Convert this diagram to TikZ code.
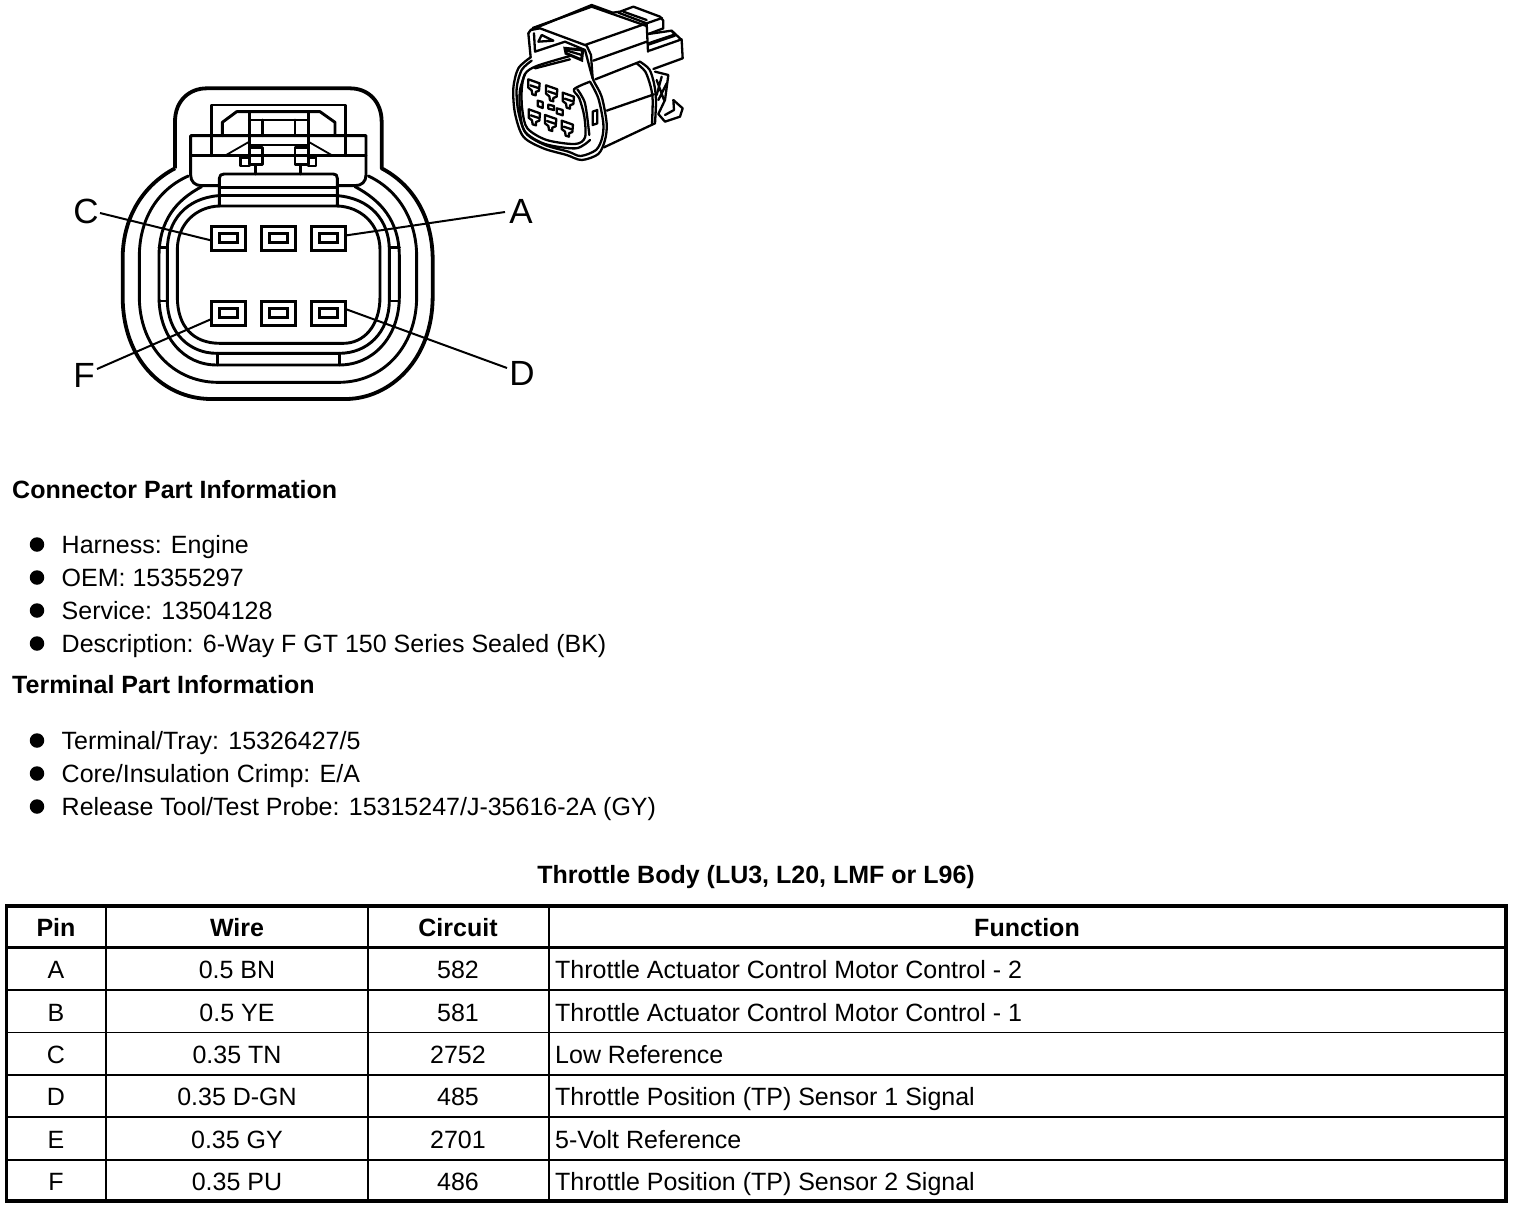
\documentclass[tikz,border=0pt]{standalone}
\usepackage{fontspec}
\setmainfont{Liberation Sans}
\tikzset{
  ol/.style={line width=2.9pt,line join=round,line cap=round},
  thick2/.style={line width=3.8pt,line join=round},
  thin1/.style={line width=1.8pt,line join=round},
  pv/.style={line width=2.3pt,line join=round,line cap=round},
  lead/.style={line width=2pt},
  lab/.style={font=\fontsize{35}{35}\selectfont,inner sep=0pt},
  pinbox/.style={draw,line width=3pt,minimum width=34pt,minimum height=24pt,inner sep=0pt,outer sep=0pt},
  pinin/.style={draw,line width=3pt,minimum width=17.5pt,minimum height=8.5pt,inner sep=0pt},
  txt/.style={anchor=base west,font=\fontsize{25}{25}\selectfont,inner sep=0pt},
  bld/.style={anchor=base west,font=\fontsize{25}{25}\selectfont\bfseries,inner sep=0pt},
  cell/.style={anchor=base,font=\fontsize{25}{25}\selectfont,inner sep=0pt},
  hd/.style={anchor=base,font=\fontsize{25}{25}\selectfont\bfseries,inner sep=0pt},
  bul/.style={circle,fill=black,minimum size=14.5pt,inner sep=0pt}
}
\begin{document}
\begin{tikzpicture}[x=1pt,y=-1pt]
\useasboundingbox (0,0) rectangle (1520,1210);
% ---- connector face, in zoom coordinates
\begin{scope}[x=0.33333pt,y=-0.33333pt,xshift=60pt,yshift=-70pt]
 \draw[thick2] (345,295) -- (345,155) .. controls (345,90) and (390,55) .. (440,55) -- (870,55) .. controls (925,55) and (965,95) .. (965,155) -- (965,295)
   .. controls (1060,345) and (1115,440) .. (1118,560) -- (1118,680) .. controls (1118,870) and (990,985) .. (860,987) -- (450,987) .. controls (310,985) and (188,870) .. (188,680) -- (188,560) .. controls (190,440) and (250,345) .. (345,295);
 \draw[ol] (385,318) .. controls (290,360) and (238,450) .. (238,560) -- (238,680) .. controls (238,830) and (340,935) .. (470,937) -- (840,937) .. controls (970,935) and (1070,830) .. (1070,680) -- (1070,560) .. controls (1070,450) and (1015,360) .. (925,318);
 \draw[ol] (425,350) .. controls (350,390) and (297,450) .. (297,560) -- (297,680) .. controls (297,800) and (370,885) .. (470,885) -- (838,885) .. controls (940,885) and (1018,800) .. (1018,680) -- (1018,560) .. controls (1018,450) and (960,390) .. (885,350);
 \draw[ol] (475,377) .. controls (380,385) and (322,450) .. (322,540) -- (322,690) .. controls (322,790) and (390,850) .. (470,850) -- (838,850) .. controls (920,850) and (988,790) .. (988,690) -- (988,540) .. controls (988,450) and (930,385) .. (832,377);
 \draw[ol] (478,408) .. controls (410,410) and (352,460) .. (352,540) -- (352,680) .. controls (352,770) and (400,820) .. (480,820) -- (850,820) .. controls (910,820) and (960,770) .. (960,680) -- (960,540) .. controls (960,460) and (900,410) .. (832,408);
 \draw[ol] (297,533) -- (322,533) (297,693) -- (322,693) (988,533) -- (1018,533) (988,693) -- (1018,693);
 \draw[ol] (472,850) -- (472,885) (838,850) -- (838,885);
 \draw[ol] (478,408) -- (478,325) .. controls (478,316) and (484,312) .. (492,312) -- (820,312) .. controls (828,312) and (832,316) .. (832,325) -- (832,408) -- cycle;
 \draw[ol] (478,352) -- (832,352) (478,377) -- (832,377);
 \draw[ol] (478,347) -- (425,347) .. controls (405,347) and (392,335) .. (392,315) -- (392,197) -- (918,197) -- (918,315) .. controls (918,335) and (905,347) .. (885,347) -- (832,347);
 \draw[ol] (392,257) -- (918,257);
 \draw[ol] (455,257) -- (455,105) -- (857,105) -- (857,257);
 \draw[ol] (487,197) -- (487,157) -- (530,125) -- (780,125) -- (825,157) -- (825,197);
 \draw[ol] (568,125) -- (568,283) -- (608,283) -- (608,232) -- (568,232);
 \draw[ol] (745,125) -- (745,283) -- (705,283) -- (705,232) -- (745,232);
 \draw[ol] (568,150) -- (745,150) (568,197) -- (745,197) (568,225) -- (745,225);
 \draw[ol] (608,150) -- (608,197) (705,150) -- (705,197);
 \draw[ol] (608,257) -- (705,257);
 \draw[ol] (568,263) -- (541,263) -- (541,288) -- (568,288) (745,263) -- (768,263) -- (768,288) -- (745,288);
 \draw[ol] (587,288) -- (587,312) (722,288) -- (722,312);
 \draw[thin1] (495,257) -- (568,215) (745,215) -- (818,257);
\end{scope}
% pins
\node[pinbox] (pC) at (228.5,238) {};
\node[pinbox] (pB) at (278.5,238) {};
\node[pinbox] (pA) at (328.5,238) {};
\node[pinbox] (pF) at (228.5,313) {};
\node[pinbox] (pE) at (278.5,313) {};
\node[pinbox] (pD) at (328.5,313) {};
\foreach \n in {pC,pB,pA,pF,pE,pD}{\node[pinin] at (\n) {};}
% labels
\node[lab] (lC) at (86,211) {C};
\node[lab] (lA) at (521,211) {A};
\node[lab] (lF) at (84,375.5) {F};
\node[lab] (lD) at (522,373.5) {D};
\coordinate (cC) at (100,213);
\coordinate (cA) at (505,212);
\coordinate (cF) at (97,369);
\coordinate (cD) at (507,368);
\draw[lead] (cC) -- ([yshift=-2.5pt]pC.west);
\draw[lead] (cA) -- ([yshift=2.5pt]pA.east);
\draw[lead] (cF) -- ([yshift=-6pt]pF.west);
\draw[lead] (cD) -- ([yshift=4pt]pD.east);
% ---- connector perspective view
\begin{scope}[x=0.33333pt,y=-0.33333pt,xshift=490pt,yshift=0pt]
 % upper block
 \draw[pv] (122,90) -- (305,15) -- (368,38) -- (390,35) -- (430,20) -- (510,50) -- (520,62) -- (520,85) -- (475,102);
 \draw[pv] (128,84) -- (305,20) -- (470,78);
 \draw[pv] (385,38) -- (470,70) -- (516,54);
 \draw[pv] (400,35) -- (470,60);
 \draw[pv] (285,135) -- (470,70) (470,70) -- (474,155);
 \draw[pv] (310,182) -- (470,125);
 % right clip
 \draw[pv] (475,102) -- (545,92) -- (575,120) -- (578,175) -- (490,207);
 \draw[line width=3.5pt] (475,132) -- (555,105);
 \draw[pv] (478,152) -- (575,118);
 \draw[pv] (545,92) -- (555,105);
 % hood
 \draw[pv] (115,100) -- (122,90) -- (150,85) -- (290,137) -- (303,165) -- (308,235);
 \draw[pv] (115,100) -- (122,172);
 \draw[pv] (132,100) -- (135,155) -- (225,125) -- (285,150) -- (297,195);
 \draw[pv] (145,125) -- (155,105) -- (190,122) -- cycle;
 \draw[line width=3pt] (225,145) -- (278,150) -- (275,180) -- (228,160) -- cycle;
 \draw[pv] (225,150) -- (275,165);
 % cylinder
 \draw[pv] (316,238) -- (450,185);
 \draw[pv] plot[smooth] coordinates {(450,185) (478,208) (492,250) (498,300) (495,370)};
 \draw[pv] plot[smooth] coordinates {(440,190) (466,215) (482,260) (488,300) (486,372)};
 \draw[pv] (350,332) -- (492,283);
 \draw[pv] (342,442) -- (495,370);
 % front outer loops
 \draw[pv] plot[smooth] coordinates {(122,172) (85,205) (70,265) (75,340) (100,410) (160,445) (230,465) (275,480) (325,462) (345,420) (350,370) (335,290) (310,240) (297,195)};
 \draw[pv] plot[smooth] coordinates {(125,182) (95,210) (80,265) (85,335) (108,400) (165,435) (235,455) (272,468) (318,450) (336,415) (340,370) (325,295) (300,245)};
 % inner face
 \draw[pv] plot[smooth] coordinates {(240,168) (140,198) (105,222) (95,270) (97,330) (112,385) (170,420) (255,432) (285,412) (283,350) (268,295) (252,268) (300,245)};
 \draw[pv] (135,205) -- (240,178);
 \draw[pv] plot[smooth] coordinates {(105,222) (90,270) (90,335) (105,395) (165,432) (258,445) (300,420)};
 \draw[pv] plot[smooth] coordinates {(262,268) (285,310) (298,405)};
 \draw[pv] (308,335) -- (322,330) -- (322,370) -- (308,375) -- cycle;
 % right lug
 \draw[pv] (495,215) -- (535,225) -- (525,300) -- (505,342) -- (525,365) -- (570,350) -- (578,325) -- (550,300) -- (552,330) -- (525,345);
 \draw[pv] (500,240) -- (522,300) (515,230) -- (500,285) (530,250) -- (505,300);
 % cavities
 \foreach \a/\b in {115/238,168/256,218/278,116/328,165/345,215/362}{
  \draw[pv] (\a,\b) -- ++(34,12) -- ++(-2,22) -- ++(-10,4) -- ++(0,10) -- ++(-10,-3) -- ++(-2,-12) -- ++(-10,-8) -- cycle;
  \draw[pv] (\a+6,\b+18) -- ++(24,8);
 }
 \draw[pv] (143,302) -- (158,306) -- (158,324) -- (143,318) -- cycle;
 \draw[pv] (175,314) -- (192,318) -- (192,330) -- (175,326) -- cycle;
 \draw[pv] (200,325) -- (218,330) -- (218,346) -- (200,340) -- cycle;
\end{scope}
% ---- text
\node[bld] (t1) at (12,498) {Connector Part Information};
\node[bul] (b1) at (37,544.5) {};
\node[bul] (b2) at (37,577.5) {};
\node[bul] (b3) at (37,610.5) {};
\node[bul] (b4) at (37,643.5) {};
\node[txt] (t2) at (61.5,553) {Harness: Engine};
\node[txt] (t3) at (61.5,586) {OEM: 15355297};
\node[txt] (t4) at (61.5,619) {Service: 13504128};
\node[txt] (t5) at (61.5,652) {Description: 6-Way F GT 150 Series Sealed (BK)};
\node[bld] (t6) at (12,693) {Terminal Part Information};
\node[bul] (b5) at (37,740.5) {};
\node[bul] (b6) at (37,773.5) {};
\node[bul] (b7) at (37,806.5) {};
\node[txt] (t7) at (61.5,749) {Terminal/Tray: 15326427/5};
\node[txt] (t8) at (61.5,782) {Core/Insulation Crimp: E/A};
\node[txt] (t9) at (61.5,815) {Release Tool/Test Probe: 15315247/J-35616-2A (GY)};
\node[hd] (ttl) at (756,883) {Throttle Body (LU3, L20, LMF or L96)};
% ---- table
\draw[line width=3.4pt] (6.5,906) rectangle (1506,1201);
\draw[line width=3pt] (6,947) -- (1506,947);
\foreach \y/\w in {990/1.2,1032.5/1.2,1075/2,1117/1.6,1159.5/2}{\draw[line width=\w pt] (6,\y) -- (1506,\y);}
\foreach \x/\w in {106/1.2,368/1.2,549/2}{\draw[line width=\w pt] (\x,906) -- (\x,1201);}
\node[hd] at (56,936) {Pin};
\node[hd] at (237,936) {Wire};
\node[hd] at (458,936) {Circuit};
\node[hd] at (1027,936) {Function};
\foreach \yy/\p/\w/\c/\f in {978/A/0.5 BN/582/Throttle Actuator Control Motor Control - 2,
 1021/B/0.5 YE/581/Throttle Actuator Control Motor Control - 1,
 1063/C/0.35 TN/2752/Low Reference,
 1105.5/D/0.35 D-GN/485/Throttle Position (TP) Sensor 1 Signal,
 1148/E/0.35 GY/2701/5-Volt Reference,
 1190/F/0.35 PU/486/Throttle Position (TP) Sensor 2 Signal}{
 \node[cell] at (56,\yy) {\p};
 \node[cell] at (237,\yy) {\w};
 \node[cell] at (458,\yy) {\c};
 \node[txt] at (555,\yy) {\f};
}
\end{tikzpicture}
\end{document}
